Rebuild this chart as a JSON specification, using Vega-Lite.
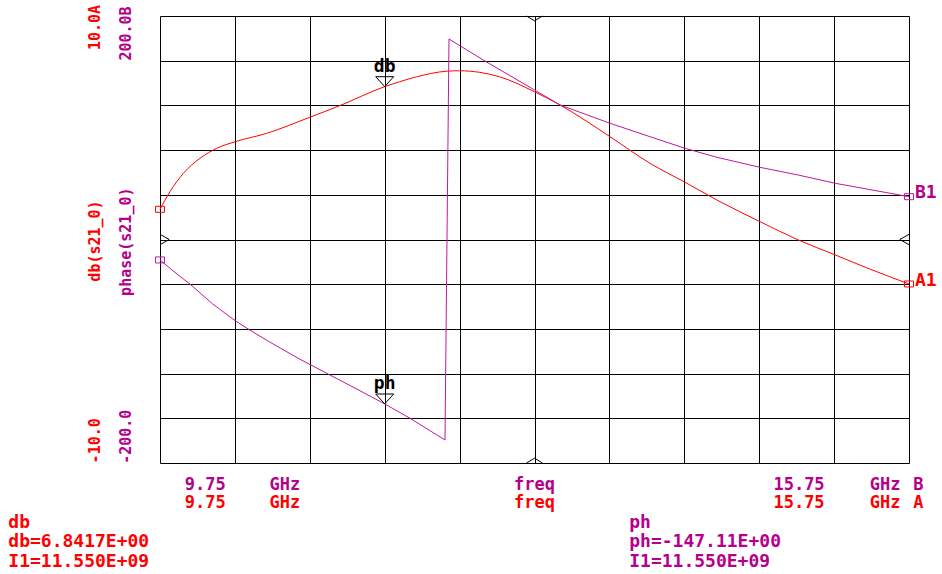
{
  "$schema": "https://vega.github.io/schema/vega-lite/v6.json",
  "width": 749,
  "height": 447,
  "autosize": "none",
  "padding": {"left": 160, "top": 16, "right": 33, "bottom": 111},
  "background": "white",
  "config": {
    "view": {"stroke": "#000000", "strokeWidth": 1},
    "font": "DejaVu Sans Mono"
  },
  "datasets": {
    "db": [
      {"f": 9.75, "v": 1.35}, {"f": 9.83, "v": 2.14}, {"f": 9.937, "v": 2.96},
      {"f": 10.07, "v": 3.63}, {"f": 10.204, "v": 4.08}, {"f": 10.356, "v": 4.38},
      {"f": 10.605, "v": 4.75}, {"f": 10.95, "v": 5.47}, {"f": 11.178, "v": 5.96},
      {"f": 11.55, "v": 6.84}, {"f": 11.67, "v": 7.06}, {"f": 11.806, "v": 7.28},
      {"f": 12.047, "v": 7.53}, {"f": 12.15, "v": 7.55}, {"f": 12.31, "v": 7.48},
      {"f": 12.47, "v": 7.28}, {"f": 12.75, "v": 6.61}, {"f": 12.954, "v": 6.02},
      {"f": 13.355, "v": 4.6}, {"f": 13.675, "v": 3.41}, {"f": 13.956, "v": 2.56},
      {"f": 14.21, "v": 1.77}, {"f": 14.556, "v": 0.8}, {"f": 14.863, "v": -0.02},
      {"f": 15.159, "v": -0.69}, {"f": 15.44, "v": -1.33}, {"f": 15.75, "v": -1.99}
    ],
    "ph": [
      {"f": 9.75, "v": -18.3}, {"f": 9.87, "v": -29.5}, {"f": 9.99, "v": -39.9}, {"f": 10.17, "v": -57.5},
      {"f": 10.356, "v": -73.0}, {"f": 10.52, "v": -84.5},
      {"f": 10.685, "v": -95.4}, {"f": 10.872, "v": -107.2}, {"f": 11.112, "v": -121.3},
      {"f": 11.27, "v": -130.5}, {"f": 11.55, "v": -147.11}, {"f": 11.753, "v": -160.0},
      {"f": 12.033, "v": -179.4}, {"f": 12.065, "v": 179.4}, {"f": 12.34, "v": 160.6},
      {"f": 12.75, "v": 133.8}, {"f": 12.954, "v": 120.4}, {"f": 13.355, "v": 104.0},
      {"f": 13.675, "v": 92.0}, {"f": 13.956, "v": 81.6}, {"f": 14.21, "v": 73.6},
      {"f": 14.556, "v": 64.6}, {"f": 14.863, "v": 57.7}, {"f": 15.159, "v": 50.3},
      {"f": 15.75, "v": 38.3}
    ],
    "mkdb": [{"name": "db", "f": 11.55, "v": 6.8417}],
    "mkph": [{"name": "ph", "f": 11.55, "v": -147.11}],
    "chev": [
      {"f": 12.75, "v": 10, "k": "top"},
      {"f": 12.75, "v": -10, "k": "bottom"},
      {"f": 9.75, "v": 0, "k": "left"},
      {"f": 15.75, "v": 0, "k": "right"}
    ],
    "rot": [
      {"t": "10.0A", "f": 9.229, "v": 9.485, "c": "A"},
      {"t": "200.0B", "f": 9.478, "v": 9.217, "c": "B"},
      {"t": "db(s21_0)", "f": 9.229, "v": -0.067, "c": "A"},
      {"t": "phase(s21_0)", "f": 9.478, "v": -0.098, "c": "B"},
      {"t": "-10.0", "f": 9.229, "v": -9.007, "c": "A"},
      {"t": "-200.0", "f": 9.478, "v": -8.823, "c": "B"}
    ],
    "ctr": [
      {"t": "9.75", "f": 10.113, "v": -11.21, "c": "B"},
      {"t": "GHz", "f": 10.751, "v": -11.21, "c": "B"},
      {"t": "freq", "f": 12.75, "v": -11.21, "c": "B"},
      {"t": "15.75", "f": 14.869, "v": -11.21, "c": "B"},
      {"t": "GHz", "f": 15.558, "v": -11.21, "c": "B"},
      {"t": "B", "f": 15.825, "v": -11.21, "c": "B"},
      {"t": "9.75", "f": 10.113, "v": -12.03, "c": "A"},
      {"t": "GHz", "f": 10.751, "v": -12.03, "c": "A"},
      {"t": "freq", "f": 12.75, "v": -12.03, "c": "A"},
      {"t": "15.75", "f": 14.869, "v": -12.03, "c": "A"},
      {"t": "GHz", "f": 15.558, "v": -12.03, "c": "A"},
      {"t": "A", "f": 15.825, "v": -12.03, "c": "A"}
    ],
    "lft": [
      {"t": "db", "f": 8.535, "v": -12.895, "c": "A"},
      {"t": "db=6.8417E+00", "f": 8.535, "v": -13.772, "c": "A"},
      {"t": "I1=11.550E+09", "f": 8.535, "v": -14.667, "c": "A"},
      {"t": "ph", "f": 13.509, "v": -12.895, "c": "B"},
      {"t": "ph=-147.11E+00", "f": 13.509, "v": -13.772, "c": "B"},
      {"t": "I1=11.550E+09", "f": 13.509, "v": -14.667, "c": "B"}
    ]
  },
  "encoding": {
    "x": {
      "field": "f",
      "type": "quantitative",
      "scale": {"domain": [9.75, 15.75], "nice": false, "zero": false},
      "axis": {
        "values": [10.35, 10.95, 11.55, 12.15, 12.75, 13.35, 13.95, 14.55, 15.15],
        "grid": true,
        "gridColor": "#000000",
        "gridOpacity": 1,
        "gridWidth": 1,
        "labels": false,
        "ticks": false,
        "domain": false,
        "title": null
      }
    }
  },
  "resolve": {"scale": {"y": "independent"}},
  "layer": [
    {
      "data": {"name": "db"},
      "mark": {"type": "line", "color": "#ff0000", "strokeWidth": 1, "interpolate": "monotone"},
      "encoding": {
        "y": {
          "field": "v", "type": "quantitative",
          "scale": {"domain": [-10, 10], "nice": false, "zero": false},
          "axis": {
            "values": [-8, -6, -4, -2, 0, 2, 4, 6, 8],
            "grid": true, "gridColor": "#000000", "gridOpacity": 1, "gridWidth": 1,
            "labels": false, "ticks": false, "domain": false, "title": null
          }
        }
      }
    },
    {
      "data": {"name": "ph"},
      "mark": {"type": "line", "color": "#c0189c", "strokeWidth": 1, "interpolate": "linear"},
      "encoding": {
        "y": {"field": "v", "type": "quantitative", "scale": {"domain": [-200, 200], "nice": false, "zero": false}, "axis": null}
      }
    },
    {
      "data": {"name": "db"},
      "transform": [{"filter": "datum.f == 9.75 || datum.f == 15.75"}],
      "mark": {"type": "point", "shape": "M-1.5,-1L1.5,-1L1.5,1L-1.5,1Z", "size": 36, "filled": false, "color": "#ff0000", "strokeWidth": 1, "opacity": 1},
      "encoding": {
        "y": {"field": "v", "type": "quantitative", "scale": {"domain": [-10, 10], "nice": false, "zero": false}, "axis": null}
      }
    },
    {
      "data": {"name": "ph"},
      "transform": [{"filter": "datum.f == 9.75 || datum.f == 15.75"}],
      "mark": {"type": "point", "shape": "M-1.5,-1L1.5,-1L1.5,1L-1.5,1Z", "size": 36, "filled": false, "color": "#c0189c", "strokeWidth": 1, "opacity": 1},
      "encoding": {
        "y": {"field": "v", "type": "quantitative", "scale": {"domain": [-200, 200], "nice": false, "zero": false}, "axis": null}
      }
    },
    {
      "data": {"name": "db"},
      "transform": [{"filter": "datum.f == 15.75"}],
      "mark": {"type": "text", "text": "A1", "align": "left", "baseline": "middle", "dx": 6, "dy": -3, "font": "DejaVu Sans Mono", "fontWeight": "bold", "fontSize": 18, "color": "#ff0000"},
      "encoding": {
        "y": {"field": "v", "type": "quantitative", "scale": {"domain": [-10, 10], "nice": false, "zero": false}, "axis": null}
      }
    },
    {
      "data": {"name": "ph"},
      "transform": [{"filter": "datum.f == 15.75"}],
      "mark": {"type": "text", "text": "B1", "align": "left", "baseline": "middle", "dx": 6, "dy": -4, "font": "DejaVu Sans Mono", "fontWeight": "bold", "fontSize": 18, "color": "#b4008c"},
      "encoding": {
        "y": {"field": "v", "type": "quantitative", "scale": {"domain": [-200, 200], "nice": false, "zero": false}, "axis": null}
      }
    },
    {
      "data": {"name": "mkdb"},
      "mark": {"type": "point", "shape": "M-1,-1.1L1,-1.1L0,0Z", "size": 324, "filled": false, "color": "#000000", "strokeWidth": 1, "opacity": 1},
      "encoding": {
        "y": {"field": "v", "type": "quantitative", "scale": {"domain": [-10, 10], "nice": false, "zero": false}, "axis": null}
      }
    },
    {
      "data": {"name": "mkdb"},
      "mark": {"type": "text", "align": "center", "baseline": "alphabetic", "dy": -15, "font": "DejaVu Sans Mono", "fontWeight": "bold", "fontSize": 18, "color": "#000000"},
      "encoding": {
        "y": {"field": "v", "type": "quantitative", "scale": {"domain": [-10, 10], "nice": false, "zero": false}, "axis": null},
        "text": {"field": "name"}
      }
    },
    {
      "data": {"name": "mkph"},
      "mark": {"type": "point", "shape": "M-1,-1.1L1,-1.1L0,0Z", "size": 324, "filled": false, "color": "#000000", "strokeWidth": 1, "opacity": 1},
      "encoding": {
        "y": {"field": "v", "type": "quantitative", "scale": {"domain": [-200, 200], "nice": false, "zero": false}, "axis": null}
      }
    },
    {
      "data": {"name": "mkph"},
      "mark": {"type": "text", "align": "center", "baseline": "alphabetic", "dy": -15, "font": "DejaVu Sans Mono", "fontWeight": "bold", "fontSize": 18, "color": "#000000"},
      "encoding": {
        "y": {"field": "v", "type": "quantitative", "scale": {"domain": [-200, 200], "nice": false, "zero": false}, "axis": null},
        "text": {"field": "name"}
      }
    },
    {
      "data": {"name": "chev"},
      "mark": {"type": "point", "size": 256, "filled": false, "color": "#000000", "strokeWidth": 1, "opacity": 1},
      "encoding": {
        "y": {"field": "v", "type": "quantitative", "scale": {"domain": [-10, 10], "nice": false, "zero": false}, "axis": null},
        "shape": {
          "field": "k", "type": "nominal", "legend": null,
          "scale": {
            "domain": ["top", "bottom", "left", "right"],
            "range": ["M-1,0L0,0.6L1,0", "M-1,0L0,-0.6L1,0", "M0,-0.65L1.15,0L0,0.65", "M0,-0.65L-1.15,0L0,0.65"]
          }
        }
      }
    },
    {
      "data": {"name": "rot"},
      "mark": {"type": "text", "angle": 270, "align": "center", "baseline": "middle", "font": "DejaVu Sans Mono", "fontWeight": "bold", "fontSize": 15},
      "encoding": {
        "y": {"field": "v", "type": "quantitative", "scale": {"domain": [-10, 10], "nice": false, "zero": false}, "axis": null},
        "text": {"field": "t"},
        "color": {"field": "c", "type": "nominal", "legend": null, "scale": {"domain": ["A", "B"], "range": ["#ff0000", "#b4008c"]}}
      }
    },
    {
      "data": {"name": "ctr"},
      "mark": {"type": "text", "align": "center", "baseline": "alphabetic", "font": "DejaVu Sans Mono", "fontWeight": "bold", "fontSize": 17},
      "encoding": {
        "y": {"field": "v", "type": "quantitative", "scale": {"domain": [-10, 10], "nice": false, "zero": false}, "axis": null},
        "text": {"field": "t"},
        "color": {"field": "c", "type": "nominal", "legend": null, "scale": {"domain": ["A", "B"], "range": ["#ff0000", "#b4008c"]}}
      }
    },
    {
      "data": {"name": "lft"},
      "mark": {"type": "text", "align": "left", "baseline": "alphabetic", "font": "DejaVu Sans Mono", "fontWeight": "bold", "fontSize": 18},
      "encoding": {
        "y": {"field": "v", "type": "quantitative", "scale": {"domain": [-10, 10], "nice": false, "zero": false}, "axis": null},
        "text": {"field": "t"},
        "color": {"field": "c", "type": "nominal", "legend": null, "scale": {"domain": ["A", "B"], "range": ["#ff0000", "#b4008c"]}}
      }
    }
  ]
}
